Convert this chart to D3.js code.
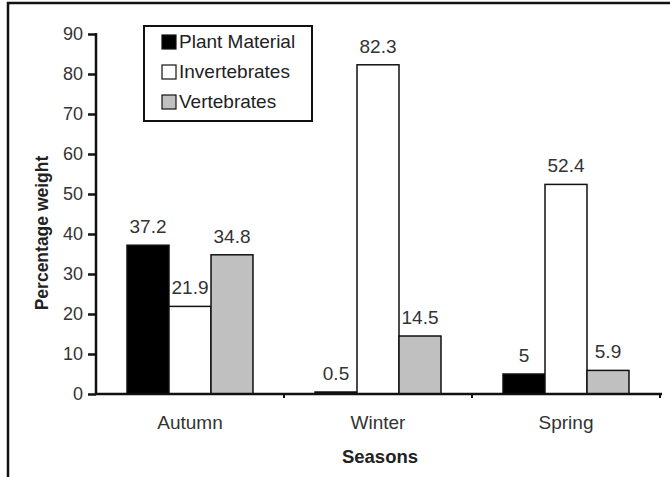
<!DOCTYPE html>
<html>
<head>
<meta charset="utf-8">
<script src="https://cdn.jsdelivr.net/npm/d3@7"></script>
<style>
  body { margin: 0; background: #fff; }
  svg text { font-family: "Liberation Sans", Arial, sans-serif; fill: #222; }
</style>
</head>
<body>
<svg id="chart"></svg>
<script>
const width = 670;
const height = 477;

// data
const seasons = ["Autumn", "Winter", "Spring"];
const series = ["Plant Material", "Invertebrates", "Vertebrates"];
const plantMaterial = [37.2, 0.5, 5];
const invertebrates = [21.9, 82.3, 52.4];
const vertebrates = [34.8, 14.5, 5.9];
const yTicks = [0, 10, 20, 30, 40, 50, 60, 70, 80, 90];

const seriesColors = ["#000000", "#ffffff", "#c0c0c0"];

const rows = [];
seasons.forEach((s, i) => {
    rows.push({season: s, key: series[0], value: plantMaterial[i]});
    rows.push({season: s, key: series[1], value: invertebrates[i]});
    rows.push({season: s, key: series[2], value: vertebrates[i]});
});

var svg = d3.select("#chart")
    .attr("width", width)
    .attr("height", height);

// outer frame (cut off on the right and bottom)
svg.append("rect")
    .attr("x", 8)
    .attr("y", 3)
    .attr("width", 700)
    .attr("height", 500)
    .attr("fill", "none")
    .attr("stroke", "#111")
    .attr("stroke-width", 2.5);

var x0 = d3.scaleBand().domain(seasons).range([96, 660]).padding(0);
var x1 = d3.scaleBand().domain(series).range([31, 157]).padding(0);
var y = d3.scaleLinear().domain([0, 90]).range([394, 34]);
var color = d3.scaleOrdinal().domain(series).range(seriesColors);

// y axis
var yAxis = d3.axisLeft(y).tickValues(yTicks).tickSize(8).tickPadding(5);
var gy = svg.append("g")
    .attr("transform", "translate(96,0)")
    .call(yAxis);
gy.select(".domain").remove();
gy.selectAll(".tick line").attr("stroke", "#111").attr("stroke-width", 2.5);
gy.selectAll(".tick text").attr("font-size", 18).style("fill", "#333");
svg.append("line")
    .attr("x1", 96).attr("x2", 96)
    .attr("y1", y(90) - 1).attr("y2", y(0) + 1)
    .attr("stroke", "#111").attr("stroke-width", 2.5);

// value labels (drawn before bars, as in the original)
svg.append("g")
    .selectAll("text")
    .data(rows)
    .enter().append("text")
    .attr("x", d => x0(d.season) + x1(d.key) + x1.bandwidth() / 2)
    .attr("y", d => y(d.value) - 12)
    .attr("text-anchor", "middle")
    .attr("font-size", 19)
    .style("fill", "#333")
    .text(d => d.value);

// bars
svg.append("g")
    .selectAll("rect")
    .data(rows)
    .enter().append("rect")
    .attr("x", d => x0(d.season) + x1(d.key))
    .attr("y", d => y(d.value))
    .attr("width", x1.bandwidth())
    .attr("height", d => y(0) - y(d.value))
    .attr("fill", d => color(d.key))
    .attr("stroke", "#111")
    .attr("stroke-width", 1.5);

// x axis
var xAxis = d3.axisBottom(x0).tickSize(0).tickPadding(22);
var gx = svg.append("g")
    .attr("transform", `translate(0, ${y(0)})`)
    .call(xAxis);
gx.select(".domain").remove();
gx.selectAll(".tick text").attr("font-size", 19).style("fill", "#333");
svg.append("line")
    .attr("x1", 96).attr("x2", 662)
    .attr("y1", y(0)).attr("y2", y(0))
    .attr("stroke", "#111").attr("stroke-width", 2.5);
// small boundary ticks between seasons
svg.append("g")
    .selectAll("line")
    .data(seasons)
    .enter().append("line")
    .attr("x1", d => x0(d) + x0.bandwidth())
    .attr("x2", d => x0(d) + x0.bandwidth())
    .attr("y1", y(0))
    .attr("y2", y(0) + 4)
    .attr("stroke", "#111")
    .attr("stroke-width", 2);

// axis titles
svg.append("text")
    .attr("transform", "translate(48, 233) rotate(-90)")
    .attr("text-anchor", "middle")
    .attr("font-size", 17.5)
    .attr("font-weight", "bold")
    .text("Percentage weight");

svg.append("text")
    .attr("x", 380)
    .attr("y", 463)
    .attr("text-anchor", "middle")
    .attr("font-size", 18.5)
    .attr("font-weight", "bold")
    .text("Seasons");

// legend
var legend = svg.append("g").attr("transform", "translate(144, 26)");
legend.append("rect")
    .attr("width", 168)
    .attr("height", 95)
    .attr("fill", "#fff")
    .attr("stroke", "#111")
    .attr("stroke-width", 2);
var items = legend.selectAll(".item")
    .data(series)
    .enter().append("g")
    .attr("class", "item")
    .attr("transform", (d, i) => `translate(18, ${16 + i * 30})`);
items.append("rect")
    .attr("x", 0).attr("y", -7)
    .attr("width", 14).attr("height", 14)
    .attr("fill", d => color(d))
    .attr("stroke", "#111")
    .attr("stroke-width", 1.2);
items.append("text")
    .attr("x", 17)
    .attr("y", 6)
    .attr("font-size", 19)
    .style("fill", "#222")
    .text(d => d);
</script>
</body>
</html>
